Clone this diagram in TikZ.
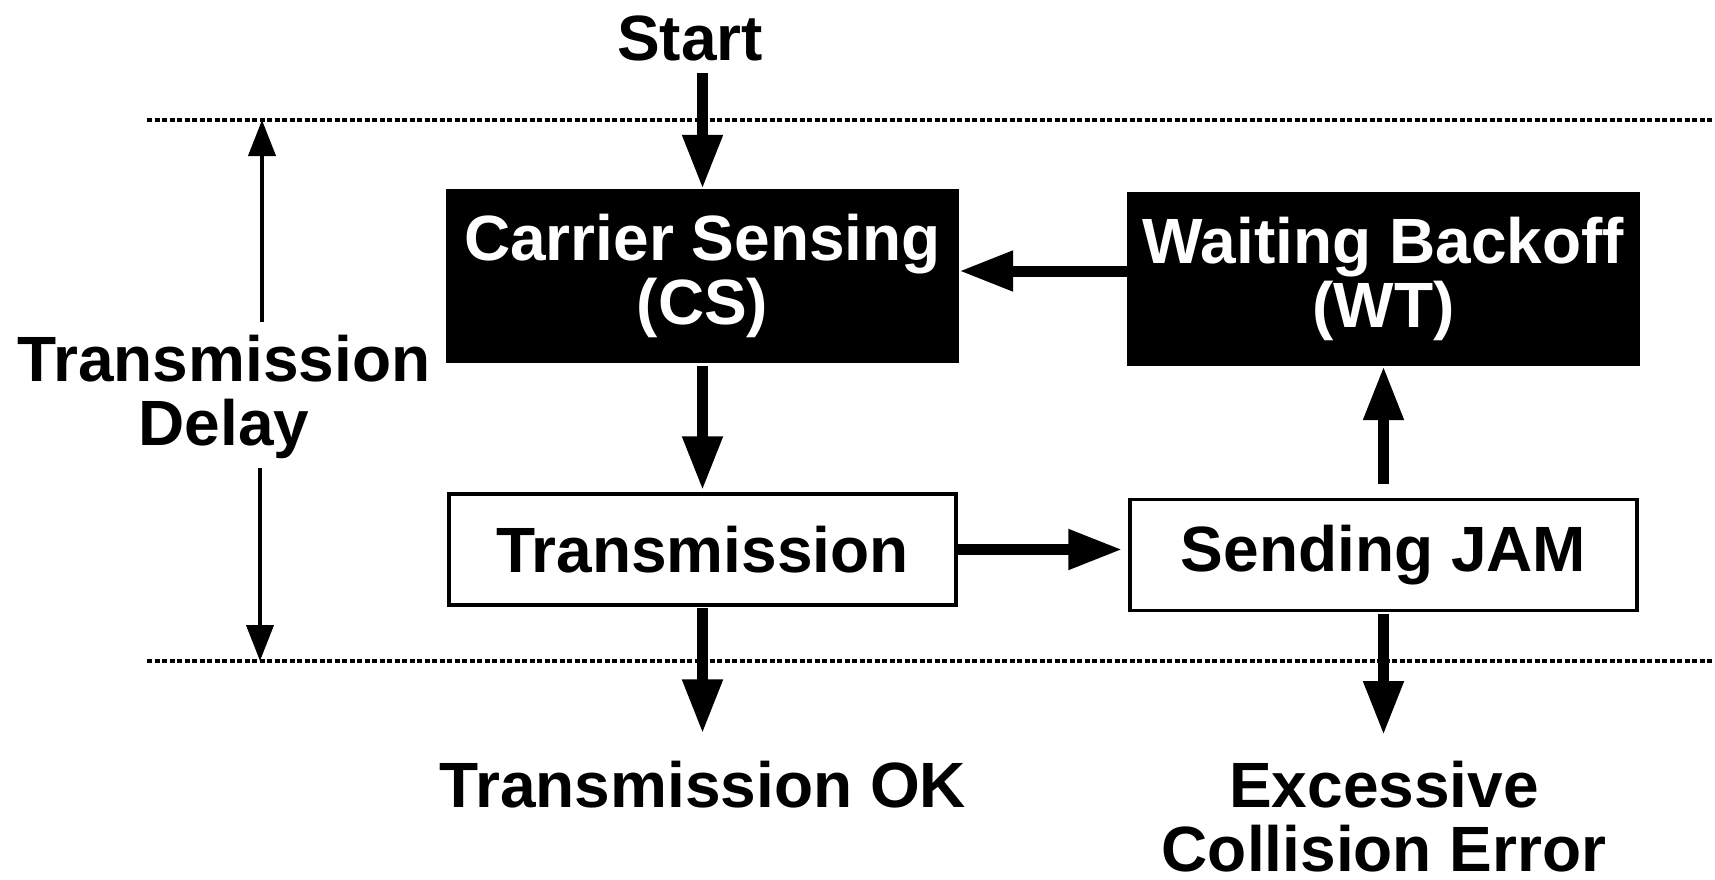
\documentclass[tikz,border=0pt]{standalone}
\usepackage{fontspec}
\setmainfont{Liberation Sans}
\usetikzlibrary{arrows.meta}

\begin{document}
\begin{tikzpicture}[x=1pt,y=-1pt,
  lbl/.style={font=\fontsize{64}{64}\selectfont\bfseries,inner sep=0pt,align=center},
  blk/.style={lbl,fill=black,text=white,minimum width=513pt,minimum height=174pt},
  wbox/.style={lbl,draw,line width=3.5pt,minimum width=507pt,minimum height=111pt},
  flow/.style={line width=11pt,-{Triangle[length=54pt,width=38pt]}},
  delayarrow/.style={line width=4pt,-{Triangle[length=36pt,width=27pt]}},
  bandline/.style={line width=3.5pt,dash pattern=on 5pt off 2.5pt}]
\useasboundingbox (0,0) rectangle (1715,880);
\draw[bandline] (147,120) -- (1715,120);
\draw[bandline] (147,661) -- (1715,661);

\node[lbl,anchor=base] (start) at (690,61) {Start};
\node[blk] (cs) at (702.5,276) {Carrier Sensing\\(CS)};
\node[blk] (wt) at (1383.5,279) {Waiting Backoff\\(WT)};
\node[wbox] (tx) at (702.5,549.5) {Transmission};
\node[wbox] (jam) at (1383.5,555) {Sending JAM};
\node[lbl,anchor=base] (ok) at (703,807) {Transmission OK};
\node[lbl,anchor=north] (err) at (1384,761) {Excessive\\Collision Error};
\node[lbl,anchor=north] (delay) at (224,335) {Transmission\\Delay};

\coordinate (dtop) at (262,120);
\coordinate (gtop) at (262,322);
\coordinate (gbot) at (260,468);
\coordinate (dbot) at (260,661);
\draw[delayarrow] (gtop) -- (dtop);
\draw[delayarrow] (gbot) -- (dbot);

\draw[flow,shorten <=11pt] (start.south -| cs.north) -- (cs.north);
\draw[flow,shorten <=3pt,shorten >=2pt] (cs) -- (tx);
\draw[flow] ([yshift=8pt]wt.west) -- ([yshift=8pt]wt.west -| cs.east);
\draw[flow,shorten <=-4pt,shorten >=6pt] (tx.east) -- (tx.east -| jam.west);
\draw[flow,shorten <=14pt] (jam.north) -- (jam.north |- wt.south);
\draw[flow,shorten <=1pt,shorten >=27pt] (tx.south) -- (tx.south |- ok.north);
\draw[flow,shorten <=2pt,shorten >=26pt] (jam.south) -- (jam.south |- err.north);
\end{tikzpicture}
\end{document}
